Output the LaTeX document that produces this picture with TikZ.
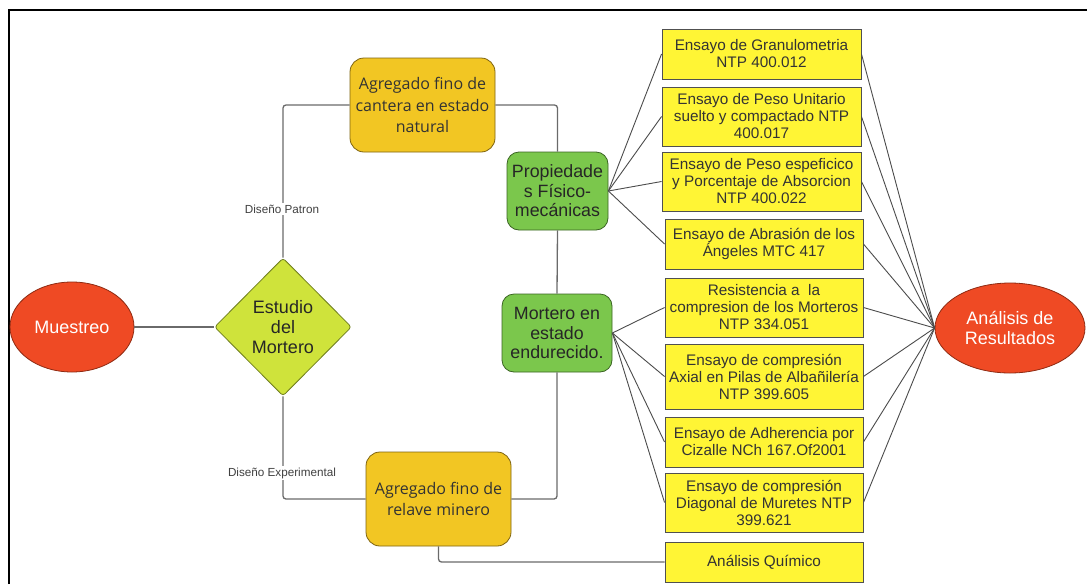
\documentclass[tikz,border=0pt]{standalone}
\usepackage{fontspec}
\setmainfont{Liberation Sans}
\newfontfamily\osans{Open Sans}
\usetikzlibrary{shapes.geometric}
\definecolor{cred}{HTML}{EF4A24}
\definecolor{credb}{HTML}{8E2A12}
\definecolor{cdia}{HTML}{CFE33B}
\definecolor{cdiab}{HTML}{6E7D1E}
\definecolor{corg}{HTML}{F2C623}
\definecolor{corgb}{HTML}{7F6410}
\definecolor{cgrn}{HTML}{7BC74C}
\definecolor{cgrnb}{HTML}{3B6423}
\definecolor{cyel}{HTML}{FFF535}
\definecolor{cyelb}{HTML}{505050}
\definecolor{cline}{HTML}{6A6A6A}
\tikzset{
  ell/.style={ellipse, draw=credb, fill=cred, line width=0.8, inner sep=0,
    text=white, align=center, font=\fontsize{18}{20}\selectfont},
  dia/.style={diamond, draw=cdiab, fill=cdia, line width=0.8, inner sep=0,
    rounded corners=3, align=center, text=black!85, font=\fontsize{18}{20}\selectfont},
  obox/.style={rectangle, rounded corners=14, draw=corgb, fill=corg, line width=0.8,
    inner sep=0, align=center, text=black!80, font=\osans\fontsize{16}{21.5}\selectfont},
  gbox/.style={rectangle, rounded corners=12, draw=cgrnb, fill=cgrn, line width=0.8,
    inner sep=0, align=center, text=black!85, font=\fontsize{17.8}{19.5}\selectfont},
  ybox/.style={rectangle, draw=cyelb, fill=cyel, line width=0.9,
    inner sep=0, align=center, text=black!80, font=\fontsize{15.3}{17}\selectfont},
  conn/.style={draw=cline, line width=1.3, rounded corners=3},
  thin/.style={draw=black!70, line width=0.9},
  lbl/.style={fill=white, inner sep=1.5, text=black!75, font=\fontsize{11.7}{13}\selectfont}
}
\begin{document}
\begin{tikzpicture}[x=1pt,y=-1pt]
\useasboundingbox (0,0) rectangle (1087,584);
\fill[white] (0,0) rectangle (1087,584);
\draw[black, line width=2] (9,584) -- (9,10) -- (1087,10);

% nodes
\node[ell, minimum width=124, minimum height=90] (mue) at (72,327) {Muestreo};
\node[dia, minimum width=137, minimum height=138] (est) at (283,327) {Estudio\\del\\Mortero};
\node[obox, minimum width=145, minimum height=94] (tb) at (422.5,105) {Agregado fino de\\cantera en estado\\natural};
\node[obox, minimum width=145, minimum height=94] (bb) at (438.5,499) {Agregado fino de\\relave minero};
\node[gbox, minimum width=101, minimum height=78] (prop) at (557.5,191) {Propiedade\\s Físico-\\mecánicas};
\node[gbox, minimum width=110, minimum height=78] (mort) at (557,333) {Mortero en\\estado\\endurecido.};

\node[ybox, minimum width=199, minimum height=50] (y1) at (761.5,54) {Ensayo de Granulometria\\NTP 400.012};
\node[ybox, minimum width=199, minimum height=59] (y2) at (761.5,116.5) {Ensayo de Peso Unitario\\suelto y compactado NTP\\400.017};
\node[ybox, minimum width=199, minimum height=59] (y3) at (761.5,181.5) {Ensayo de Peso espeficico\\y Porcentaje de Absorcion\\NTP 400.022};
\node[ybox, minimum width=198, minimum height=50] (y4) at (764,244) {Ensayo de Abrasión de los\\Ángeles MTC 417};
\node[ybox, minimum width=198, minimum height=59] (y5) at (764,307.5) {Resistencia a\ \ la\\compresion de los Morteros\\NTP 334.051};
\node[ybox, minimum width=198, minimum height=65] (y6) at (764,376.5) {Ensayo de compresión\\Axial en Pilas de Albañilería\\NTP 399.605};
\node[ybox, minimum width=198, minimum height=50] (y7) at (764,442) {Ensayo de Adherencia por\\Cizalle NCh 167.Of2001};
\node[ybox, minimum width=198, minimum height=59] (y8) at (764,502.5) {Ensayo de compresión\\Diagonal de Muretes NTP\\399.621};
\node[ybox, minimum width=198, minimum height=40] (y9) at (764,562) {Análisis Químico};

\node[ell, minimum width=150, minimum height=90] (res) at (1010,328) {Análisis de\\Resultados};

% connectors
\draw[conn] (mue.east) -- (est.west);
\draw[conn] (est.north) |- (tb.west);
\draw[conn] (est.south) |- (bb.west);
\node[lbl] (lp) at (282,209) {Diseño Patron};
\node[lbl] (le) at (282,473) {Diseño Experimental};
\draw[conn] (tb.east) -| (prop.north);
\draw[conn] (prop.south) -- (mort.north);
\draw[conn] (bb.east) -| (mort.south);
\draw[conn] (bb.south) |- (y9.west);

\foreach \i in {1,2,3,4} { \draw[thin] (prop.east) -- (y\i.west); }
\foreach \i in {5,6,7,8} { \draw[thin] (mort.east) -- (y\i.west); }
\foreach \i in {1,...,8} { \draw[thin] (y\i.east) -- (res.west); }
\end{tikzpicture}
\end{document}
